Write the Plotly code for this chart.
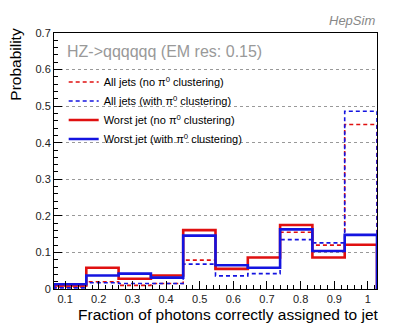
import plotly.graph_objects as go

# bin edges of the histogram (10 bins)
bin_edges = [0.067, 0.163, 0.259, 0.355, 0.451, 0.547, 0.643, 0.739, 0.835, 0.931, 1.027]

# probabilities per bin
all_no_pi0 = [0.005, 0.020, 0.010, 0.015, 0.079, 0.054, 0.057, 0.155, 0.120, 0.450]
all_with_pi0 = [0.003, 0.017, 0.015, 0.015, 0.068, 0.036, 0.042, 0.135, 0.126, 0.486]
worst_no_pi0 = [0.010, 0.058, 0.028, 0.037, 0.161, 0.055, 0.086, 0.175, 0.086, 0.121]
worst_with_pi0 = [0.013, 0.037, 0.042, 0.031, 0.146, 0.065, 0.058, 0.163, 0.104, 0.148]

series = [
    ("All jets (no π<sup>0</sup> clustering)", all_no_pi0, "#e01010", "dash", 1.6),
    ("All jets (with π<sup>0</sup> clustering)", all_with_pi0, "#1414e0", "dash", 1.6),
    ("Worst jet (no π<sup>0</sup> clustering)", worst_no_pi0, "#e01010", "solid", 2.6),
    ("Worst jet (with π<sup>0</sup> clustering)", worst_with_pi0, "#1414e0", "solid", 2.6),
]

fig = go.Figure()
for name, vals, color, dash, width in series:
    # step outline: drop to zero at both ends like a ROOT histogram
    xs = [bin_edges[0]] + bin_edges + [bin_edges[-1]]
    ys = [0] + vals + [vals[-1], 0]
    fig.add_trace(go.Scatter(
        x=xs, y=ys, mode="lines", name=name,
        line=dict(color=color, width=width, dash="4px,3px" if dash == "dash" else "solid",
                  shape="hv"),
    ))

axis_common = dict(
    showline=True, linecolor="black", linewidth=1, mirror=True,
    ticks="inside", ticklen=8, tickcolor="black",
    tickfont=dict(size=11, color="#222"),
    zeroline=False,
)

fig.update_xaxes(
    range=[bin_edges[0], bin_edges[-1]], dtick=0.1, tick0=0,
    showgrid=False,
    minor=dict(ticks="inside", ticklen=4, dtick=0.02, tickcolor="black"),
    **axis_common,
)
fig.update_yaxes(
    range=[0, 0.7], dtick=0.1,
    showgrid=True, gridcolor="#999", griddash="dot", gridwidth=1,
    minor=dict(ticks="inside", ticklen=4, dtick=0.02, tickcolor="black"),
    **axis_common,
)

# the page body adds an 8px margin, so the figure is a bit smaller than the window
fig.update_layout(
    width=411, height=323,
    margin=dict(l=46, r=42, t=25, b=42),
    paper_bgcolor="white", plot_bgcolor="white",
    font=dict(family="Liberation Sans, Arial, sans-serif", color="black"),
    showlegend=True,
    legend=dict(
        x=0.03, y=0.865, xanchor="left", yanchor="top",
        bgcolor="rgba(0,0,0,0)", font=dict(size=11),
        itemwidth=30, tracegroupgap=0,
    ),
    annotations=[
        dict(text="HZ->qqqqqq (EM res: 0.15)", xref="paper", yref="paper",
             x=0.035, y=0.97, xanchor="left", yanchor="top", showarrow=False,
             font=dict(size=16, color="#999999")),
        dict(text="<i>HepSim</i>", xref="paper", yref="paper",
             x=1.0, y=1.01, xanchor="right", yanchor="bottom", showarrow=False,
             font=dict(size=13, color="#888888")),
        dict(text="Fraction of photons correctly assigned to jet", xref="paper", yref="paper",
             x=1.0, y=-0.06, xanchor="right", yanchor="top", showarrow=False, xshift=4,
             font=dict(size=15.5, color="black")),
        dict(text="Probability", xref="paper", yref="paper", textangle=-90,
             x=-0.118, y=1.03, xanchor="center", yanchor="top", showarrow=False,
             font=dict(size=15.5, color="black")),
    ],
)

fig.write_html("out.html")
